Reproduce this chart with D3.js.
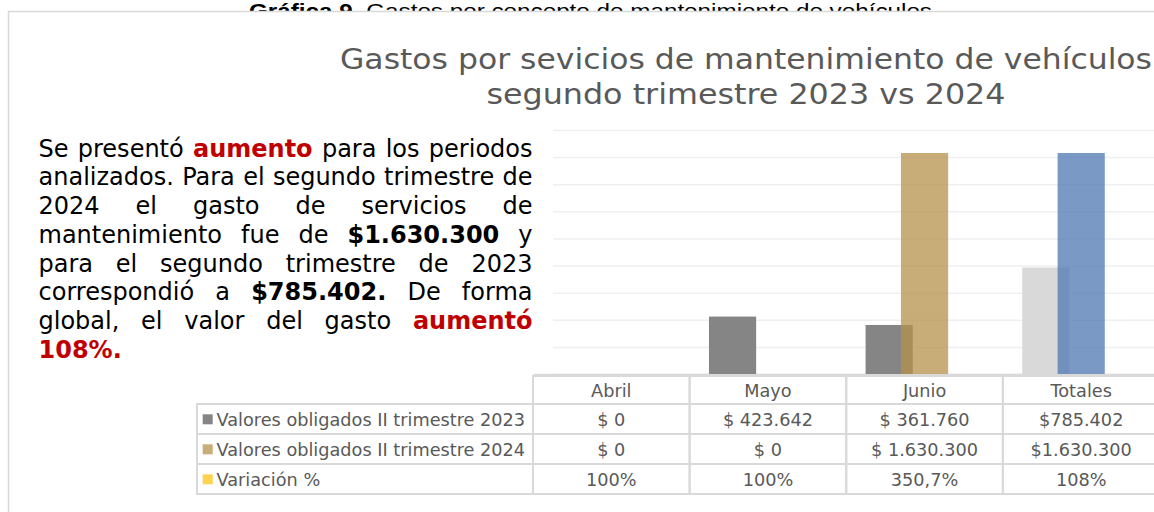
<!DOCTYPE html>
<html lang="es">
<head>
<meta charset="utf-8">
<script src="https://cdn.jsdelivr.net/npm/d3@7"></script>
<style>
  body { margin: 0; background: #fff; }
  svg { display: block; font-family: 'DejaVu Sans', Verdana, sans-serif; }
</style>
</head>
<body>
<div id="chart"><svg width="1154" height="512"></svg></div>
<script>
const categories = ['Abril', 'Mayo', 'Junio', 'Totales']
const seriesNames = ['Valores obligados II trimestre 2023', 'Valores obligados II trimestre 2024', 'Variación %']
const values2023 = [0, 423642, 361760, 785402]
const values2024 = [0, 0, 1630300, 1630300]
const variation = [1.00, 1.00, 3.507, 1.08]
const labels2023 = ['$ 0', '$ 423.642', '$ 361.760', '$785.402']
const labels2024 = ['$ 0', '$ 0', '$ 1.630.300', '$1.630.300']
const labelsVariation = ['100%', '100%', '350,7%', '108%']

const caption = ['Gráfica 9.', ' Gastos por concepto de mantenimiento de vehículos']
const titleLines = ['Gastos por sevicios de mantenimiento de vehículos', 'segundo trimestre 2023 vs 2024']
// each word: [text, style]  '' normal, 'b' bold, 'r' bold red
const paragraphLines = [
  [['Se', ''], ['presentó', ''], ['aumento', 'r'], ['para', ''], ['los', ''], ['periodos', '']],
  [['analizados.', ''], ['Para', ''], ['el', ''], ['segundo', ''], ['trimestre', ''], ['de', '']],
  [['2024', ''], ['el', ''], ['gasto', ''], ['de', ''], ['servicios', ''], ['de', '']],
  [['mantenimiento', ''], ['fue', ''], ['de', ''], ['$1.630.300', 'b'], ['y', '']],
  [['para', ''], ['el', ''], ['segundo', ''], ['trimestre', ''], ['de', ''], ['2023', '']],
  [['correspondió', ''], ['a', ''], ['$785.402.', 'b'], ['De', ''], ['forma', '']],
  [['global,', ''], ['el', ''], ['valor', ''], ['del', ''], ['gasto', ''], ['aumentó', 'r']],
  [['108%.', 'r']]
]

const colors2023 = ['#858585', '#858585', '#858585', '#d9d9d9']
const colors2024 = ['#b6924b', '#b6924b', '#b6924b', '#4e78b2']
const colorVariation = '#ffd34f'
const legendColors = ['#858585', '#c8ad78', '#ffd34f']
const textGray = '#595959'
const borderGray = '#d9d9d9'

const svg = d3.select('#chart').select('svg')

const x = d3.scaleBand()
  .domain(categories)
  .range([533, 1159.5])

const y = d3.scaleLinear()
  .domain([0, 1800000])
  .range([374, 130])

/**
 * Draws the clipped caption above the chart and the chart frame over it.
 */
function appendFrame () {
  const t = svg.append('text')
    .attr('x', 249)
    .attr('y', 18)
    .attr('font-family', 'Liberation Sans, Arial, sans-serif')
    .attr('font-size', 21)
    .attr('fill', '#000')
    .attr('textLength', 683)
    .attr('lengthAdjust', 'spacingAndGlyphs')
  t.append('tspan').attr('font-weight', 'bold').text(caption[0])
  t.append('tspan').text(caption[1])

  svg.append('rect')
    .attr('x', 8.5)
    .attr('y', 11.5)
    .attr('width', 1200)
    .attr('height', 600)
    .attr('fill', '#fff')
    .attr('stroke', borderGray)
    .attr('stroke-width', 1.5)
}

/**
 * Appends the two lines of the chart title.
 */
function appendTitle () {
  const widths = [812, 519]
  svg.selectAll('text.title')
    .data(titleLines)
    .join('text')
    .attr('class', 'title')
    .attr('x', 746)
    .attr('y', (d, i) => 69 + i * 35)
    .attr('text-anchor', 'middle')
    .attr('font-size', 29)
    .attr('fill', textGray)
    .attr('textLength', (d, i) => widths[i])
    .attr('lengthAdjust', 'spacingAndGlyphs')
    .text(d => d)
}

/**
 * Appends the justified comment paragraph on the left.
 */
function appendParagraph () {
  const left = 38.5
  const right = 532.5
  const g = svg.append('g').attr('font-size', 24)
  paragraphLines.forEach((line, i) => {
    const yy = 156.7 + i * 28.7
    const nodes = line.map(w => g.append('text')
      .attr('y', yy)
      .attr('font-weight', w[1] ? 'bold' : 'normal')
      .attr('fill', w[1] === 'r' ? '#c00000' : '#000')
      .text(w[0]))
    const lens = nodes.map(n => n.node().getComputedTextLength())
    const last = i === paragraphLines.length - 1
    const gap = (last || nodes.length < 2)
      ? 7.6
      : (right - left - d3.sum(lens)) / (nodes.length - 1)
    let cx = left
    nodes.forEach((n, j) => {
      n.attr('x', cx)
      cx += lens[j] + gap
    })
  })
}

/**
 * Appends the horizontal gridlines and the category axis line.
 */
function appendAxes () {
  svg.append('g')
    .attr('class', 'grid')
    .attr('transform', 'translate(553,0)')
    .call(d3.axisLeft(y).ticks(9).tickSize(-(1159 - 553)).tickFormat(''))
    .call(g => g.select('.domain').remove())
    .call(g => g.selectAll('line').attr('stroke', '#efefef').attr('stroke-width', 1.5))

  svg.append('g')
    .attr('class', 'x axis')
    .attr('transform', 'translate(0,' + y(0) + ')')
    .call(d3.axisBottom(x).tickSize(0).tickFormat(''))
    .call(g => g.select('.domain').attr('stroke', borderGray).attr('stroke-width', 1.5))
}

/**
 * Appends the clustered bars of the three series.
 */
function appendBars () {
  const overlap = 0.25
  const gapWidth = 0.82
  const w = x.step() / (1 + 2 * (1 - overlap) + gapWidth)
  const start = c => x(c) + x.step() / 2 - (w + 2 * w * (1 - overlap)) / 2
  const series = [
    { values: values2023, fill: colors2023, opacity: 1 },
    { values: values2024, fill: colors2024, opacity: 0.75 },
    { values: variation, fill: categories.map(() => colorVariation), opacity: 1 }
  ]
  series.forEach((s, k) => {
    svg.append('g')
      .attr('class', 'series-' + k)
      .selectAll('rect')
      .data(categories)
      .join('rect')
      .attr('x', c => start(c) + k * w * (1 - overlap))
      .attr('width', w)
      .attr('y', (c, i) => y(s.values[i]))
      .attr('height', (c, i) => y(0) - y(s.values[i]))
      .attr('fill', (c, i) => s.fill[i])
      .attr('fill-opacity', s.opacity)
  })
}

/**
 * Appends the data table below the plot with its legend keys.
 */
function appendTable () {
  const g = svg.append('g')
    .attr('font-size', 17.7)
    .attr('fill', textGray)
  const rowTop = [404, 434, 464]
  const rowH = 30
  const rows = [labels2023, labels2024, labelsVariation]
  const cell = (x0, y0, w, h) => g.append('rect')
    .attr('x', x0).attr('y', y0).attr('width', w).attr('height', h)
    .attr('fill', 'none').attr('stroke', borderGray).attr('stroke-width', 2)

  categories.forEach(c => {
    cell(x(c), 376, x.bandwidth(), 28)
    g.append('text')
      .attr('x', x(c) + x.bandwidth() / 2)
      .attr('y', 397)
      .attr('text-anchor', 'middle')
      .text(c)
  })

  rows.forEach((r, i) => {
    cell(197, rowTop[i], 533 - 197, rowH)
    g.append('rect')
      .attr('x', 202.7).attr('y', rowTop[i] + 10.3)
      .attr('width', 10).attr('height', 10)
      .attr('fill', legendColors[i])
    g.append('text')
      .attr('x', 216.5)
      .attr('y', rowTop[i] + 22)
      .text(seriesNames[i])
    categories.forEach((c, j) => {
      cell(x(c), rowTop[i], x.bandwidth(), rowH)
      g.append('text')
        .attr('x', x(c) + x.bandwidth() / 2)
        .attr('y', rowTop[i] + 22)
        .attr('text-anchor', 'middle')
        .text(r[j])
    })
  })
}

appendFrame()
appendTitle()
appendParagraph()
appendAxes()
appendBars()
appendTable()
</script>
</body>
</html>
